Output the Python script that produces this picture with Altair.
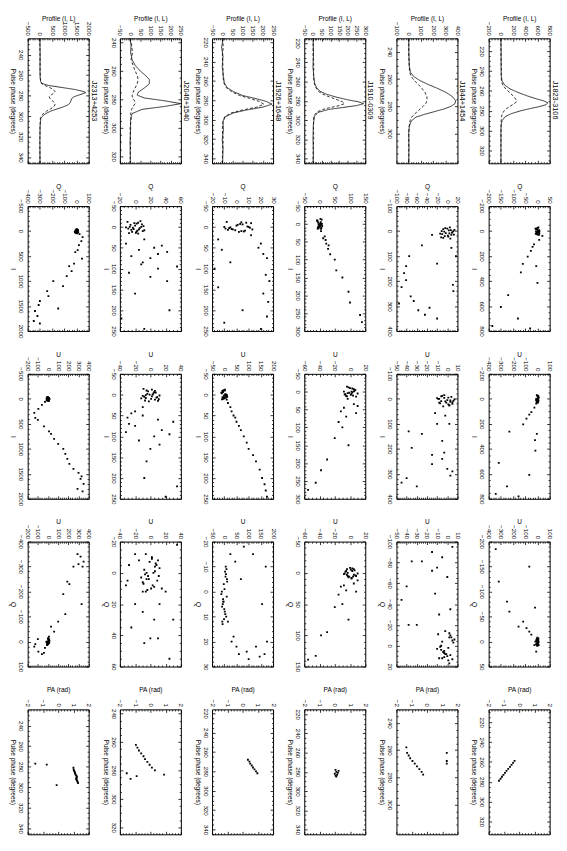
import altair as alt
import pandas as pd

FONT = "Liberation Sans"
W, H = 62, 127

# ---------------- pulsar names (left to right in the rotated page) ----------------
names = ["J2313+4253", "J2046+1540", "J1926+1648", "J1910-0309", "J1844+1454", "J1823-3106"]

# ---------------- J2313+4253 ----------------
J2313_phase_dom = [224, 346]
J2313_phase_ticks = [240, 260, 280, 300, 320, 340]
J2313_prof_dom = [-500, 2000]
J2313_prof_ticks = [-500, 0, 500, 1000, 1500, 2000]
J2313_prof_phase = [224, 240, 255, 262, 266, 268, 270, 272, 274, 276, 277, 279, 281, 283, 285, 287, 289, 291, 293, 295, 298, 302, 310, 325, 346]
J2313_prof_I = [0, 10, 5, 10, 30, 80, 350, 900, 1450, 1800, 1880, 1650, 1400, 1300, 1270, 1240, 1150, 950, 700, 450, 200, 40, 10, 0, 5]
J2313_prof_L = [0, 5, 10, 15, 30, 60, 200, 400, 550, 620, 600, 480, 380, 420, 520, 600, 620, 560, 430, 280, 120, 20, 5, 0, 5]
J2313_I = [-30, -15, 0, 10, 25, 40, -40, 5, 20, -10, 35, -25, 15, 0, 30, -5, -20, 8, 18, -35, 28, 12, -12, 45,
           60, 120, 200, 280, 380, 420, 550, 650, 700, 800, 900, 1000, 1100, 1200, 1300, 1400, 1480, 1550, 1600, 1700, 1800, 1850]
J2313_Q = [5, -8, 10, 2, -12, 6, 0, -4, 14, 8, -6, 12, -10, 3, 0, -2, -3, 7, -9, 4, 9, -14, 1, 5,
           25, 50, 40, 20, 10, -10, 45, -20, -60, -40, -80, -190, -110, -240, -230, -300, -310, -150, -340, -320, -350, -300]
J2313_U = [-6, 10, 2, -12, 4, 8, -3, 14, -8, 0, 6, -10, 3, 12, -14, 5, 9, -5, 6, -2, -9, 1, -13, 3,
           -30, -60, -95, -135, -125, -100, -40, 10, 30, 60, 100, 150, 170, 190, 210, 250, 300, 330, 320, 350, 290, 340]
J2313_I_dom, J2313_I_ticks = [-500, 2000], [-500, 0, 500, 1000, 1500, 2000]
J2313_Q_dom, J2313_Q_ticks = [-400, 100], [-400, -300, -200, -100, 0, 100]
J2313_U_dom, J2313_U_ticks = [-200, 400], [-200, -100, 0, 100, 200, 300, 400]
J2313_pa_phase = [277, 278, 281, 283, 284, 285, 286, 287, 288, 289, 290, 291, 292, 293, 294, 295, 296, 298]
J2313_pa = [-1.5, -0.75, 1.0, 1.02, 1.05, 1.08, 1.1, 1.12, 1.15, 1.2, 1.22, 1.2, 1.18, 1.22, 1.25, 1.28, 1.3, -0.1]

# ---------------- J2046+1540 ----------------
J2046_phase_dom = [237, 325]
J2046_phase_ticks = [240, 260, 280, 300, 320]
J2046_prof_dom = [-50, 250]
J2046_prof_ticks = [-50, 0, 50, 100, 150, 200, 250]
J2046_prof_phase = [237, 242, 247, 252, 256, 260, 263, 266, 269, 272, 275, 277, 279, 281, 283, 285, 287, 290, 295, 300, 310, 325]
J2046_prof_I = [0, 5, 3, 10, 25, 50, 75, 95, 95, 70, 40, 35, 70, 170, 250, 170, 60, 10, 2, 3, 0, 2]
J2046_prof_L = [0, 8, 12, 5, 15, 25, 35, 40, 35, 25, 15, 10, 12, 22, 25, 15, 8, 3, 5, 0, 3, 0]
J2046_I = [-10, -5, 0, 5, 10, 15, -8, 3, 12, -3, 8, -12, 6, 0, 14, -6, 2, 9, 4, -14, 11, -2, 7, 16, -9, 1,
           30, 40, 45, 50, 55, 60, 70, 75, 85, 95, 100, 110, 130, 160, 200, 220, 245, 90, 65, 120]
J2046_Q = [4, -6, 8, -2, 10, -8, 2, 6, -4, 0, 12, -10, 5, -7, 1, 9, -3, 3, -9, 7, 2, 11, -5, 4, -1, -12,
           12, -12, 35, 25, 5, 42, -5, 20, 10, 55, 30, -8, 42, 0, 45, -18, 12, 8, 30, 20]
J2046_U = [-5, 7, 3, -8, 1, 10, -3, -10, 6, 4, -6, 2, 9, -1, -7, 5, 12, -12, 2, -9, 11, -4, 8, -2, 6, -6,
           -10, -20, -25, -10, -30, 10, -28, -20, 15, 25, 5, -15, 0, -5, -8, 35, 20, -32, 30, 12]
J2046_I_dom, J2046_I_ticks = [-50, 250], [-50, 0, 50, 100, 150, 200, 250]
J2046_Q_dom, J2046_Q_ticks = [-20, 60], [-20, 0, 20, 40, 60]
J2046_U_dom, J2046_U_ticks = [-40, 40], [-40, -20, 0, 20, 40]
J2046_pa_phase = [262, 264, 266, 268, 270, 272, 274, 276, 278, 280, 283, 282, 284, 286]
J2046_pa = [-0.95, -0.85, -0.75, -0.6, -0.45, -0.35, -0.2, -0.05, 0.1, 0.3, 0.9, -1.55, -0.9, -1.3]

# ---------------- J1926+1648 ----------------
J1926_phase_dom = [216, 345]
J1926_phase_ticks = [220, 240, 260, 280, 300, 320, 340]
J1926_prof_dom = [-50, 250]
J1926_prof_ticks = [-50, 0, 50, 100, 150, 200, 250]
J1926_prof_phase = [216, 225, 235, 245, 255, 262, 267, 271, 275, 278, 281, 284, 287, 290, 293, 297, 302, 310, 320, 330, 345]
J1926_prof_I = [5, -3, 4, 0, 6, 10, 25, 55, 100, 160, 215, 245, 200, 120, 55, 15, 3, 6, 0, 4, 2]
J1926_prof_L = [2, 5, 0, 4, 3, 8, 20, 45, 85, 135, 180, 205, 170, 100, 45, 12, 4, 0, 5, 2, 0]
J1926_I = [-12, -6, 0, 6, 12, -9, 3, 9, -3, 0, 10, -10, 5, -5, 2, 7, -7, 4, 11, -1, 8, -11, 1, 6,
           20, 30, 40, 50, 55, 65, 75, 85, 100, 115, 130, 145, 160, 180, 200, 215, 230, 245]
J1926_Q = [-8, 5, 10, -3, 2, 12, -6, 7, 0, -10, 4, 8, -4, 1, 11, -7, 3, -9, 6, 9, -1, 4, -5, 13,
           12, -15, 20, 18, -12, 22, 25, -5, -18, 24, 27, -15, 22, 26, 5, 25, -10, 20]
J1926_U = [3, -6, 8, -2, 10, -8, 5, 0, -10, 6, -4, 2, 12, -12, -1, 7, -5, 9, -9, 4, 1, -3, 11, -7,
           15, 25, 30, 38, 45, 50, 60, 68, 80, 92, 100, 118, 130, 145, 155, 165, 170, 175]
J1926_I_dom, J1926_I_ticks = [-50, 250], [-50, 0, 50, 100, 150, 200, 250]
J1926_Q_dom, J1926_Q_ticks = [-20, 30], [-20, -10, 0, 10, 20, 30]
J1926_U_dom, J1926_U_ticks = [-50, 200], [-50, 0, 50, 100, 150, 200]
J1926_pa_phase = [268, 270, 272, 274, 276, 278, 280, 282]
J1926_pa = [0.35, 0.45, 0.5, 0.6, 0.68, 0.78, 0.88, 0.97]

# ---------------- J1910-0309 ----------------
J1910_phase_dom = [215, 345]
J1910_phase_ticks = [220, 240, 260, 280, 300, 320, 340]
J1910_prof_dom = [-50, 300]
J1910_prof_ticks = [-50, 0, 50, 100, 150, 200, 250, 300]
J1910_prof_phase = [215, 230, 245, 255, 262, 266, 270, 273, 276, 279, 281, 283, 285, 287, 289, 292, 296, 305, 320, 335, 345]
J1910_prof_I = [0, 3, 0, 5, 10, 20, 40, 75, 130, 200, 260, 290, 250, 170, 90, 30, 8, 2, 0, 3, 0]
J1910_prof_L = [3, 0, 5, 2, 8, 15, 30, 55, 95, 140, 170, 180, 150, 100, 55, 20, 5, 3, 4, 0, 2]
J1910_I = [-14, -7, 0, 7, 14, -10, 4, 11, -3, 0, 9, -12, 5, 2, -5, 12, -9, 3, 8, -1, 13, 6,
           20, 35, 45, 55, 70, 85, 100, 130, 150, 190, 220, 255, 275, 40, 60]
J1910_Q = [3, -6, 8, -2, 5, -8, 0, 6, -4, 2, -5, 7, 1, -3, 4, -3, -7, 6, 1, 3, -6, 9,
           5, 17, 20, 22, 28, 35, 50, 55, 75, 95, 100, 133, 139, 12, 30]
J1910_U = [-4, 5, 2, -6, 8, 0, -3, 4, 6, -8, 1, -2, 10, 3, 7, -5, 3, -1, -7, 5, -4, 2,
           -3, 5, -8, -12, -5, -15, -10, -20, -2, -30, -38, -45, -55, 10, 8]
J1910_I_dom, J1910_I_ticks = [-50, 300], [-50, 0, 50, 100, 150, 200, 250, 300]
J1910_Q_dom, J1910_Q_ticks = [-50, 150], [-50, 0, 50, 100, 150]
J1910_U_dom, J1910_U_ticks = [-60, 20], [-60, -40, -20, 0, 20]
J1910_pa_phase = [278, 279, 280, 281, 282, 283, 284, 285]
J1910_pa = [0.05, 0.25, 0.1, 0.2, 0.0, 0.15, 0.05, 0.1]

# ---------------- J1844+1454 ----------------
J1844_phase_dom = [230, 322]
J1844_phase_ticks = [240, 260, 280, 300]
J1844_prof_dom = [-100, 400]
J1844_prof_ticks = [-100, 0, 100, 200, 300, 400]
J1844_prof_phase = [230, 240, 250, 255, 258, 261, 264, 267, 270, 273, 276, 278, 280, 282, 284, 286, 288, 291, 295, 300, 310, 322]
J1844_prof_I = [0, 2, 5, 15, 40, 90, 160, 240, 310, 360, 385, 380, 350, 290, 210, 130, 60, 20, 5, 0, 3, 0]
J1844_prof_L = [3, 0, 4, 8, 20, 45, 80, 110, 135, 150, 150, 140, 120, 95, 70, 45, 25, 10, 4, 2, 0, 2]
J1844_I = [-15, -8, 0, 8, 15, 25, -10, 5, 20, -3, 12, 30, -5, 2, 18, 10, 6, -12, 22, 0, 14, -4, 27, 9,
           15, 57, 67, 100, 100, 140, 168, 196, 224, 215, 261, 280, 307, 317, 335, 350, 290, 240, 130]
J1844_Q = [5, -8, 12, -3, 8, -12, 0, 10, -5, 3, -10, 6, 14, -6, 1, -14, 9, -4, 2, -11, 13, 7, -8, 4,
           -30, -50, 8, -75, 17, -81, -85, -81, -90, 11, -72, -66, -35, -57, -44, -20, -95, 12, -20]
J1844_U = [-3, 4, -8, 6, -1, 2, -6, 0, 5, -10, 3, -4, 1, 7, -7, -2, 3, -5, 1, -9, 5, -3, 2, -6,
           -8, -12, -2, -10, 2, -25, -5, -35, -15, -3, -15, 0, 3, -40, -45, -30, 5, -5, -38]
J1844_I_dom, J1844_I_ticks = [-100, 400], [-100, 0, 100, 200, 300, 400]
J1844_Q_dom, J1844_Q_ticks = [-100, 20], [-100, -80, -60, -40, -20, 0, 20]
J1844_U_dom, J1844_U_ticks = [-50, 10], [-50, -40, -30, -20, -10, 0, 10]
J1844_pa_phase = [258, 262, 264, 266, 268, 270, 272, 274, 276, 278, 262, 268, 270]
J1844_pa = [-1.35, -1.3, -1.2, -1.1, -0.95, -0.8, -0.65, -0.5, -0.35, -0.25, 1.3, 1.3, 1.3]

# ---------------- J1823-3106 ----------------
J1823_phase_dom = [207, 333]
J1823_phase_ticks = [220, 240, 260, 280, 300, 320]
J1823_prof_dom = [-200, 800]
J1823_prof_ticks = [-200, 0, 200, 400, 600, 800]
J1823_prof_phase = [207, 220, 235, 245, 250, 254, 258, 262, 265, 268, 270, 272, 274, 276, 278, 280, 283, 286, 290, 295, 300, 310, 320, 333]
J1823_prof_I = [0, 5, 3, 8, 20, 60, 150, 300, 430, 580, 700, 770, 740, 620, 470, 330, 170, 70, 20, 5, 0, 3, 0, 2]
J1823_prof_L = [5, 0, 8, 5, 10, 30, 80, 150, 200, 240, 260, 240, 190, 140, 90, 55, 25, 10, 5, 3, 6, 0, 4, 2]
J1823_I = [-30, -15, 0, 15, 30, -20, 5, 25, -8, 10, -25, 20, 0, 12, -22, 8, 22, -3, 18, -12, 28, 3,
           38, 70, 106, 127, 158, 204, 262, 281, 330, 415, 512, 608, 700, 760, 780]
J1823_Q = [4, -6, 8, -2, 6, -8, 0, 3, 7, -4, 2, -7, 5, 1, -3, 6, -5, 3, 8, -1, 0, -6,
           20, 7, -14, -20, -27, -40, -60, -5, -68, 0, -120, -150, -80, -185, -30]
J1823_U = [-5, 8, 2, -9, 4, 0, -3, 6, 10, -7, 3, -1, -10, 9, 6, -8, 1, 4, -4, 7, -6, 2,
           -10, -25, -50, -67, -90, -117, -230, -5, -20, -17, -317, -67, -250, -342, -155]
J1823_I_dom, J1823_I_ticks = [-200, 800], [-200, 0, 200, 400, 600, 800]
J1823_Q_dom, J1823_Q_ticks = [-200, 50], [-200, -150, -100, -50, 0, 50]
J1823_U_dom, J1823_U_ticks = [-400, 100], [-400, -300, -200, -100, 0, 100]
J1823_pa_phase = [259, 261, 263, 265, 267, 269, 271, 273, 275, 277, 279]
J1823_pa = [-0.3, -0.4, -0.5, -0.6, -0.72, -0.83, -0.93, -1.03, -1.13, -1.22, -1.32]

PA_dom, PA_ticks = [-2, 2], [-2, -1, 0, 1, 2]


def pulsar(p):
    g = globals()
    return {k: g[p + "_" + k] for k in [
        "phase_dom", "phase_ticks", "prof_dom", "prof_ticks", "prof_phase", "prof_I", "prof_L",
        "I", "Q", "U", "I_dom", "I_ticks", "Q_dom", "Q_ticks", "U_dom", "U_ticks", "pa_phase", "pa"]}


def inside(vals, dom):
    return [v for v in vals if dom[0] <= v <= dom[1]]


def minor(major, dom):
    step = major[1] - major[0]
    lead = int(f"{step:e}"[0])
    n = 4 if lead == 2 else 5
    ms = step / n
    k0 = int(-(-dom[0] // ms))
    k1 = int(dom[1] // ms)
    out = []
    for k in range(k0, k1 + 1):
        v = round(k * ms, 6)
        if abs(v / step - round(v / step)) > 1e-6:
            out.append(v)
    return out


def x_axis(title, vals, dom):
    return alt.Axis(orient="top", title=title, values=inside(vals, dom), format="d",
                    labelAngle=90, labelAlign="right", labelBaseline="middle",
                    labelPadding=3, labelFlush=False, labelOverlap=False,
                    tickSize=3, offset=-3, domain=False, grid=False,
                    titleAngle=0, titleY=-21, titleBaseline="alphabetic")


def y_axis(title, vals, dom):
    return alt.Axis(orient="left", title=title, values=inside(vals, dom), format="d",
                    labelAngle=90, labelAlign="center", labelBaseline="top",
                    labelPadding=4, labelFlush=False, labelOverlap=False,
                    tickSize=3, offset=-3, domain=False, grid=False,
                    titleAngle=90, titleBaseline="top", titleX=-15)


def tick_axis(orient, vals, size):
    return alt.Axis(orient=orient, values=vals, labels=False, title=None, tickSize=size,
                    offset=-size, domain=False, grid=False)


def xs(dom):
    return alt.Scale(domain=dom, nice=False, zero=False)


def ys(dom):
    return alt.Scale(domain=dom, nice=False, zero=False, reverse=True)


def frame_ticks(df, xf, yf, xdom, xt, ydom, yt):
    """Invisible layers that only carry tick marks on all four sides of the frame."""
    xmaj, ymaj = inside(xt, xdom), inside(yt, ydom)
    xmin, ymin = minor(xt, xdom), minor(yt, ydom)
    specs = [("top", "left", xmin, ymin, 1.6),
             ("bottom", "right", xmaj, ymaj, 3),
             ("bottom", "right", xmin, ymin, 1.6)]
    out = []
    for xo, yo, xv, yv, sz in specs:
        out.append(alt.Chart(df).mark_point(opacity=0).encode(
            x=alt.X(xf, scale=xs(xdom), axis=tick_axis(xo, xv, sz)),
            y=alt.Y(yf, scale=ys(ydom), axis=tick_axis(yo, yv, sz))))
    return out


def profile_panel(d, name):
    n = len(d["prof_phase"])
    df = pd.DataFrame({"phase": d["prof_phase"] * 2,
                       "val": d["prof_I"] + d["prof_L"],
                       "s": ["I"] * n + ["L"] * n})
    lines = alt.Chart(df).mark_line(color="black", strokeWidth=0.8, clip=True).encode(
        x=alt.X("val:Q", scale=xs(d["prof_dom"]), axis=x_axis("Profile (I, L)", d["prof_ticks"], d["prof_dom"])),
        y=alt.Y("phase:Q", scale=ys(d["phase_dom"]), axis=y_axis("Pulse phase (degrees)", d["phase_ticks"], d["phase_dom"])),
        strokeDash=alt.StrokeDash("s:N", scale=alt.Scale(domain=["I", "L"], range=[[1, 0], [3, 2]]), legend=None),
        order="phase:Q")
    label = alt.Chart(pd.DataFrame({"t": [name]})).mark_text(
        angle=90, align="left", baseline="bottom", fontSize=7.5, font=FONT, color="black").encode(
        text="t:N", x=alt.value(W + 1), y=alt.value(43))
    ticks = frame_ticks(df, "val:Q", "phase:Q", d["prof_dom"], d["prof_ticks"], d["phase_dom"], d["phase_ticks"])
    return alt.layer(lines, label, *ticks).resolve_axis(x="independent", y="independent").properties(width=W, height=H)


def scatter_panel(xv, yv, xdom, xt, xtitle, ydom, yt, ytitle):
    df = pd.DataFrame({"x": xv, "y": yv})
    pts = alt.Chart(df).mark_square(size=3.5, color="black", opacity=1, clip=True).encode(
        x=alt.X("x:Q", scale=xs(xdom), axis=x_axis(xtitle, xt, xdom)),
        y=alt.Y("y:Q", scale=ys(ydom), axis=y_axis(ytitle, yt, ydom)))
    ticks = frame_ticks(df, "x:Q", "y:Q", xdom, xt, ydom, yt)
    return alt.layer(pts, *ticks).resolve_axis(x="independent", y="independent").properties(width=W, height=H)


keys = ["J2313", "J2046", "J1926", "J1910", "J1844", "J1823"]
data = [pulsar(k) for k in keys]

panels = []
for d, nm in zip(data, names):
    panels.append(profile_panel(d, nm))
for d in data:
    panels.append(scatter_panel(d["Q"], d["I"], d["Q_dom"], d["Q_ticks"], "Q", d["I_dom"], d["I_ticks"], "I"))
for d in data:
    panels.append(scatter_panel(d["U"], d["I"], d["U_dom"], d["U_ticks"], "U", d["I_dom"], d["I_ticks"], "I"))
for d in data:
    panels.append(scatter_panel(d["U"], d["Q"], d["U_dom"], d["U_ticks"], "U", d["Q_dom"], d["Q_ticks"], "Q"))
for d in data:
    panels.append(scatter_panel(d["pa"], d["pa_phase"], PA_dom, PA_ticks, "PA (rad)", d["phase_dom"], d["phase_ticks"], "Pulse phase (degrees)"))

chart = alt.concat(*panels, columns=6, spacing={"row": 43.5, "column": 31.7}, bounds="flush").properties(
    padding=0
).configure_view(stroke="black", strokeWidth=1).configure_axis(
    labelFont=FONT, titleFont=FONT, labelFontSize=6.3, titleFontSize=6.6, titleFontWeight="normal",
    labelColor="black", titleColor="black", tickColor="black", tickWidth=0.8)

chart.save("out.html", embed_options={"renderer": "svg", "actions": False})
